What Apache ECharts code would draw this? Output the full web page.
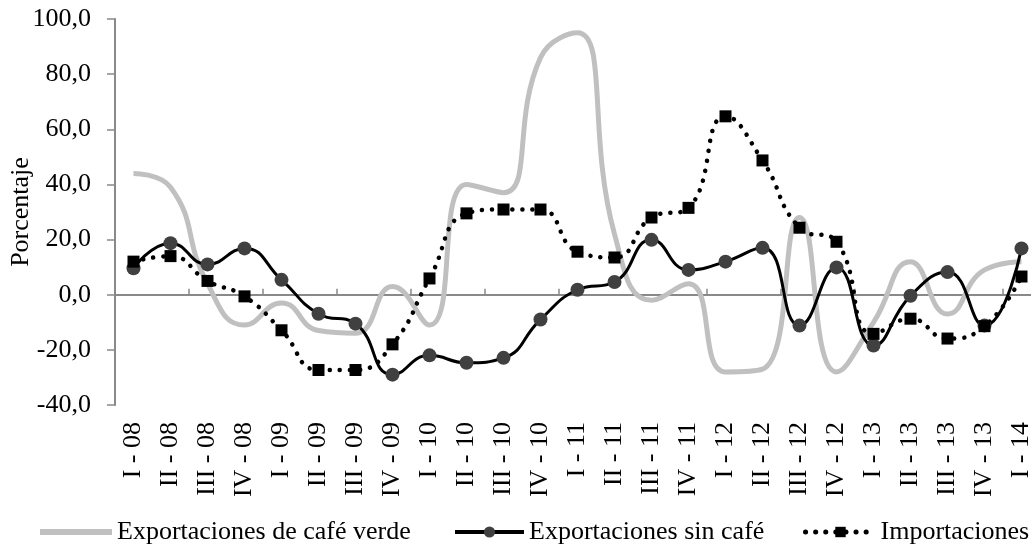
<!DOCTYPE html>
<html>
<head>
<meta charset="utf-8">
<script src="https://cdn.jsdelivr.net/npm/echarts@6/dist/echarts.min.js"></script>
<style>
  html, body { margin: 0; padding: 0; background: #fff; }
  #chart { width: 1031px; height: 546px; }
</style>
</head>
<body>
<div id="chart"></div>
<script>
// Quarters I-08 .. I-14
var categories = [
  'I - 08', 'II - 08', 'III - 08', 'IV - 08',
  'I - 09', 'II - 09', 'III - 09', 'IV - 09',
  'I - 10', 'II - 10', 'III - 10', 'IV - 10',
  'I - 11', 'II - 11', 'III - 11', 'IV - 11',
  'I - 12', 'II - 12', 'III - 12', 'IV - 12',
  'I - 13', 'II - 13', 'III - 13', 'IV - 13',
  'I - 14'
];

// values (%)
var cafeVerde = [44, 39, 4, -11, -3, -13, -14, 3, -11, 40, 37, 86, 95, 22, -2, 4, -28, -27, 28, -28, -10, 12, -7, 9, 12];
var sinCafe = [9.6, 18.7, 11, 16.8, 5.4, -6.9, -10.5, -29, -22, -24.7, -22.9, -9, 1.8, 4.6, 19.9, 9, 12, 17, -11.2, 9.9, -18.4, -0.4, 8.2, -11.2, 16.8];
var importaciones = [12, 14, 5, -0.6, -12.9, -27.3, -27.3, -18, 5.9, 29.5, 30.9, 30.9, 15.6, 13.5, 28, 31.5, 64.7, 48.7, 24.3, 19.2, -14.2, -8.7, -15.9, -11.4, 6.6];

var yTicks = { min: -40, max: 100, interval: 20 };

var font = '"Liberation Serif", "Times New Roman", serif';
var fs = 26;
var axisGrey = '#898989';

var chart = echarts.init(document.getElementById('chart'));

function legendFor(item, left, w, h, line) {
  return {
    data: [item], left: left, top: 514,
    itemWidth: w, itemHeight: h, itemGap: 0,
    lineStyle: line || {},
    textStyle: { fontFamily: font, fontSize: fs, color: '#000' }
  };
}

chart.setOption({
  animation: false,
  grid: { left: 115, right: -9, top: 19, bottom: 141, containLabel: false, outerBoundsMode: 'none' },
  legend: [
    legendFor({ name: 'Exportaciones de café verde', icon: 'rect' }, 35, 72, 6),
    legendFor('Exportaciones sin café', 448, 69, 14, { width: 4, color: '#000' }),
    legendFor('Importaciones', 798, 70, 13, { width: 5, color: '#000', type: [0.1, 10], cap: 'round' })
  ],
  xAxis: [{
    type: 'category', data: categories, boundaryGap: true,
    axisLine: { show: false, onZero: false },
    axisTick: { show: false },
    axisLabel: { rotate: 90, margin: 17, interval: 0, fontFamily: font, fontSize: fs, color: '#000' }
  }, {
    // axis line drawn at zero
    type: 'category', data: categories, boundaryGap: true,
    axisLine: { show: true, onZero: true, lineStyle: { color: axisGrey, width: 2 } },
    axisTick: { show: true, length: 6, lineStyle: { color: axisGrey, width: 1.5 } },
    axisLabel: { show: false }
  }],
  yAxis: {
    type: 'value', min: yTicks.min, max: yTicks.max, interval: yTicks.interval,
    name: 'Porcentaje', nameLocation: 'middle', nameGap: 81, nameMoveOverlap: false,
    nameTextStyle: { fontFamily: font, fontSize: fs, color: '#000' },
    axisLine: { show: true, lineStyle: { color: axisGrey, width: 2 } },
    axisTick: { show: true, length: 8, lineStyle: { color: axisGrey, width: 1.5 } },
    splitLine: { show: false },
    axisLabel: {
      margin: 24, fontFamily: font, fontSize: fs, color: '#000',
      formatter: function(v) { return v.toFixed(1).replace('.', ','); }
    }
  },
  series: [{
    name: 'Exportaciones de café verde', type: 'line', data: cafeVerde,
    smooth: 0.5, symbol: 'none',
    lineStyle: { color: '#c0c0c0', width: 5 },
    itemStyle: { color: '#c0c0c0' }
  }, {
    name: 'Exportaciones sin café', type: 'line', data: sinCafe,
    smooth: 0.5, symbol: 'circle', symbolSize: 14, showSymbol: true,
    lineStyle: { color: '#000', width: 3 },
    itemStyle: { color: '#404040' }
  }, {
    name: 'Importaciones', type: 'line', data: importaciones,
    smooth: 0.5, symbol: 'rect', symbolSize: 12, showSymbol: true,
    lineStyle: { color: '#000', width: 4.5, type: [0.1, 10], cap: 'round' },
    itemStyle: { color: '#000' }
  }]
});
</script>
</body>
</html>
